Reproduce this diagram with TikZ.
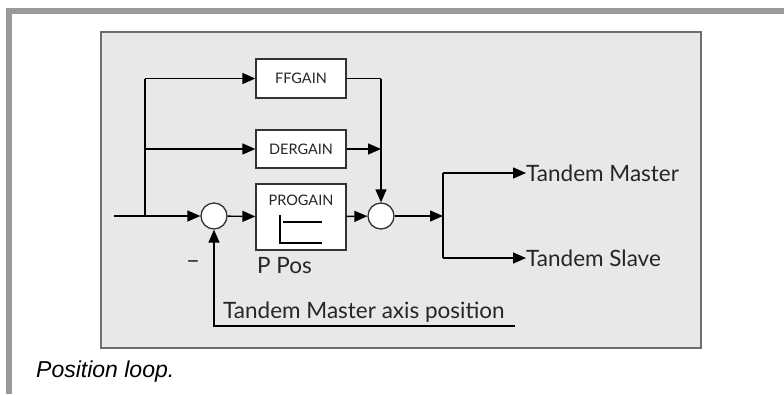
\documentclass[tikz,border=0pt]{standalone}
\usepackage{fontspec}
\setmainfont{Lato}
\newfontfamily\capfont{Liberation Sans}
\usetikzlibrary{arrows.meta}
\definecolor{barGray}{HTML}{9A9A9A}
\definecolor{panelFill}{HTML}{E9E7EA}
\definecolor{panelLine}{HTML}{6E6E6E}
\begin{document}
\begin{tikzpicture}[x=1pt,y=-1pt,
  line/.style={draw=black,line width=1.4pt},
  arr/.style={line,-{Triangle[length=13pt,width=11pt]}},
  gainbox/.style={draw=black!80,line width=1.3pt,fill=white,minimum width=90pt,inner sep=0pt,font=\fontsize{14.5}{16}\selectfont,text=black!85},
  sumnode/.style={circle,draw=black!80,line width=1.3pt,fill=white,minimum size=26pt,inner sep=0pt},
  lbl/.style={inner sep=0pt,font=\fontsize{22.5}{26}\selectfont,text=black!85}
]
\useasboundingbox (0,0) rectangle (784,394);
% outer frame bars
\fill[barGray] (6,8) rectangle (784,14);
\fill[barGray] (6,8) rectangle (12,394);
% panel
\draw[panelLine,fill=panelFill,line width=2pt] (101,32) rectangle (701,348);
% boxes
\node[gainbox,minimum height=39pt] (ff) at (301,78.5) {FFGAIN};
\node[gainbox,minimum height=38pt] (der) at (301,149) {DERGAIN};
\node[gainbox,minimum height=66pt] (pro) at (301,217) {};
\node[inner sep=0pt,font=\fontsize{14.5}{16}\selectfont,text=black!85] (protxt) at (301,200) {PROGAIN};
\draw[line width=1.3pt] (280,215) -- (280,243) -- (322,243);
\draw[line width=1.3pt] (283,222) -- (322,222);
% sums
\node[sumnode] (s1) at (214,216) {};
\node[sumnode] (s2) at (381,216) {};
% coordinates
\coordinate (in) at (114,216);
\coordinate (tap) at (145,216);
\coordinate (tapff) at (145,78.5);
\coordinate (tapder) at (145,149);
\coordinate (ffc) at (381,78.5);
\coordinate (derc) at (381,149);
\coordinate (jn) at (443,216);
\coordinate (jtop) at (443,173);
\coordinate (jbot) at (443,258);
\coordinate (fbend) at (515,326);
\coordinate (fbc) at (214,326);
% outputs
\node[lbl,anchor=west] (tm) at (526,173) {Tandem Master};
\node[lbl,anchor=west] (ts) at (526,258) {Tandem Slave};
% connectors
\draw[arr] (in) -- (s1);
\draw[line] (tap) -- (tapff);
\draw[arr] (tapff) -- (ff);
\draw[arr] (tapder) -- (der);
\draw[arr] (s1) -- (pro);
\draw[arr] (pro) -- (s2);
\draw[line] (ff.east) -- (ffc);
\draw[arr] (ffc) -- (s2);
\draw[arr] (der) -- (derc);
\draw[arr] (s2) -- (jn);
\draw[line] (jtop) -- (jbot);
\draw[arr] (jtop) -- (tm);
\draw[arr] (jbot) -- (ts);
\draw[arr] (fbend) -- (fbc) -- (s1);
% labels
\node[lbl,anchor=base west] (pp) at (257,273) {P Pos};
\node[lbl,anchor=base west] (tmap) at (223,318) {Tandem Master axis position};
\node[lbl,font=\fontsize{24}{26}\selectfont] (minus) at (193,265) {–};
% caption
\node[inner sep=0pt,anchor=base west,font=\capfont\itshape\fontsize{23}{26}\selectfont] (cap) at (36,377) {Position loop.};
\end{tikzpicture}
\end{document}
